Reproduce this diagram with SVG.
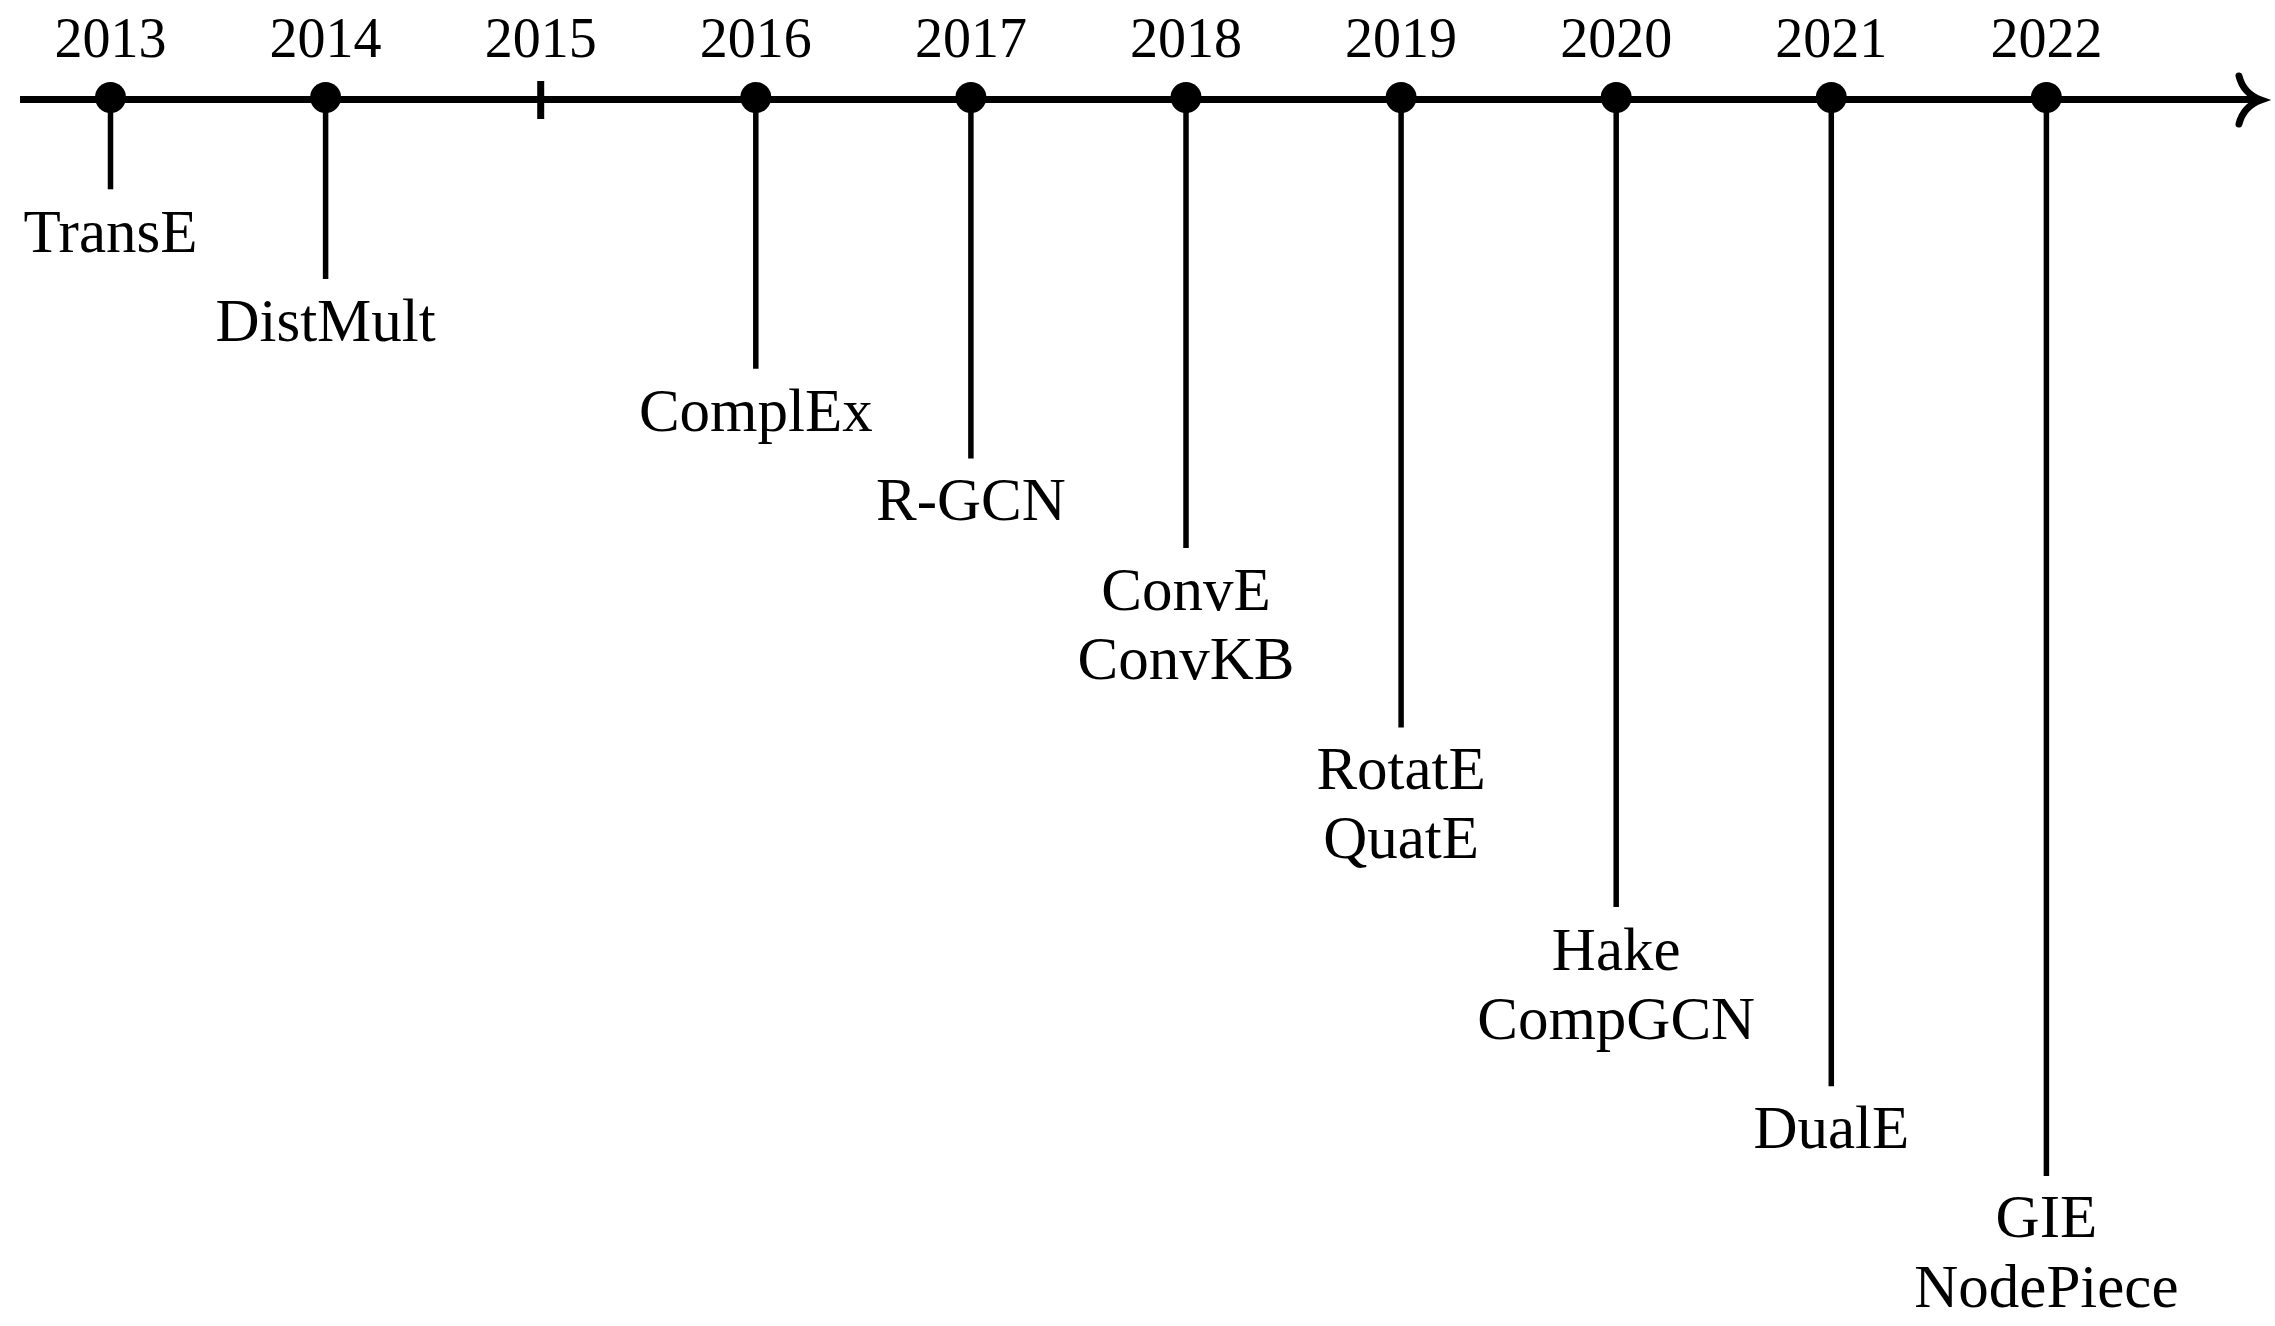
<svg xmlns="http://www.w3.org/2000/svg" width="2275" height="1326" viewBox="0 0 2275 1326">
<style>
.yr{font-family:"Liberation Serif","Times New Roman",serif;font-size:56px;fill:#000;text-anchor:middle}
.lb{font-family:"Liberation Serif","Times New Roman",serif;font-size:61px;fill:#000;text-anchor:middle}
.stem{stroke:#000;stroke-width:5.5;fill:none}
.axis{stroke:#000;stroke-width:7;fill:none}
.dot{fill:#000}
</style>
<rect width="2275" height="1326" fill="#fff"/>
<g id="connectors">
<line class="axis" x1="20" y1="99.6" x2="2256" y2="99.6"/>
<path class="axis" d="M2239 76 C2242 88 2250 96 2261 100 C2250 104 2242 112 2239 124" stroke-linecap="round"/>
<line class="axis" x1="540.7" y1="81" x2="540.7" y2="119"/>
<line class="stem" x1="110.5" y1="99.6" x2="110.5" y2="189.3"/>
<line class="stem" x1="325.6" y1="99.6" x2="325.6" y2="279"/>
<line class="stem" x1="755.8" y1="99.6" x2="755.8" y2="368.7"/>
<line class="stem" x1="970.9" y1="99.6" x2="970.9" y2="458.4"/>
<line class="stem" x1="1186" y1="99.6" x2="1186" y2="548.1"/>
<line class="stem" x1="1401.1" y1="99.6" x2="1401.1" y2="727.5"/>
<line class="stem" x1="1616.2" y1="99.6" x2="1616.2" y2="906.9"/>
<line class="stem" x1="1831.3" y1="99.6" x2="1831.3" y2="1086.3"/>
<line class="stem" x1="2046.4" y1="99.6" x2="2046.4" y2="1176"/>
</g>
<g id="y2013"><circle class="dot" cx="110.5" cy="97.5" r="15.5"/><text class="yr" x="110.5" y="57">2013</text><text class="lb" x="110.5" y="251.5">TransE</text></g>
<g id="y2014"><circle class="dot" cx="325.6" cy="97.5" r="15.5"/><text class="yr" x="325.6" y="57">2014</text><text class="lb" x="325.6" y="341">DistMult</text></g>
<g id="y2015"><text class="yr" x="540.7" y="57">2015</text></g>
<g id="y2016"><circle class="dot" cx="755.8" cy="97.5" r="15.5"/><text class="yr" x="755.8" y="57">2016</text><text class="lb" x="755.8" y="430.5">ComplEx</text></g>
<g id="y2017"><circle class="dot" cx="970.9" cy="97.5" r="15.5"/><text class="yr" x="970.9" y="57">2017</text><text class="lb" x="970.9" y="520">R-GCN</text></g>
<g id="y2018"><circle class="dot" cx="1186" cy="97.5" r="15.5"/><text class="yr" x="1186" y="57">2018</text><text class="lb" x="1186" y="609.5">ConvE</text><text class="lb" x="1186" y="679">ConvKB</text></g>
<g id="y2019"><circle class="dot" cx="1401.1" cy="97.5" r="15.5"/><text class="yr" x="1401.1" y="57">2019</text><text class="lb" x="1401.1" y="788.5">RotatE</text><text class="lb" x="1401.1" y="858">QuatE</text></g>
<g id="y2020"><circle class="dot" cx="1616.2" cy="97.5" r="15.5"/><text class="yr" x="1616.2" y="57">2020</text><text class="lb" x="1616.2" y="969.5">Hake</text><text class="lb" x="1616.2" y="1039">CompGCN</text></g>
<g id="y2021"><circle class="dot" cx="1831.3" cy="97.5" r="15.5"/><text class="yr" x="1831.3" y="57">2021</text><text class="lb" x="1831.3" y="1148">DualE</text></g>
<g id="y2022"><circle class="dot" cx="2046.4" cy="97.5" r="15.5"/><text class="yr" x="2046.4" y="57">2022</text><text class="lb" x="2046.4" y="1237">GIE</text><text class="lb" x="2046.4" y="1306.5">NodePiece</text></g>
</svg>
